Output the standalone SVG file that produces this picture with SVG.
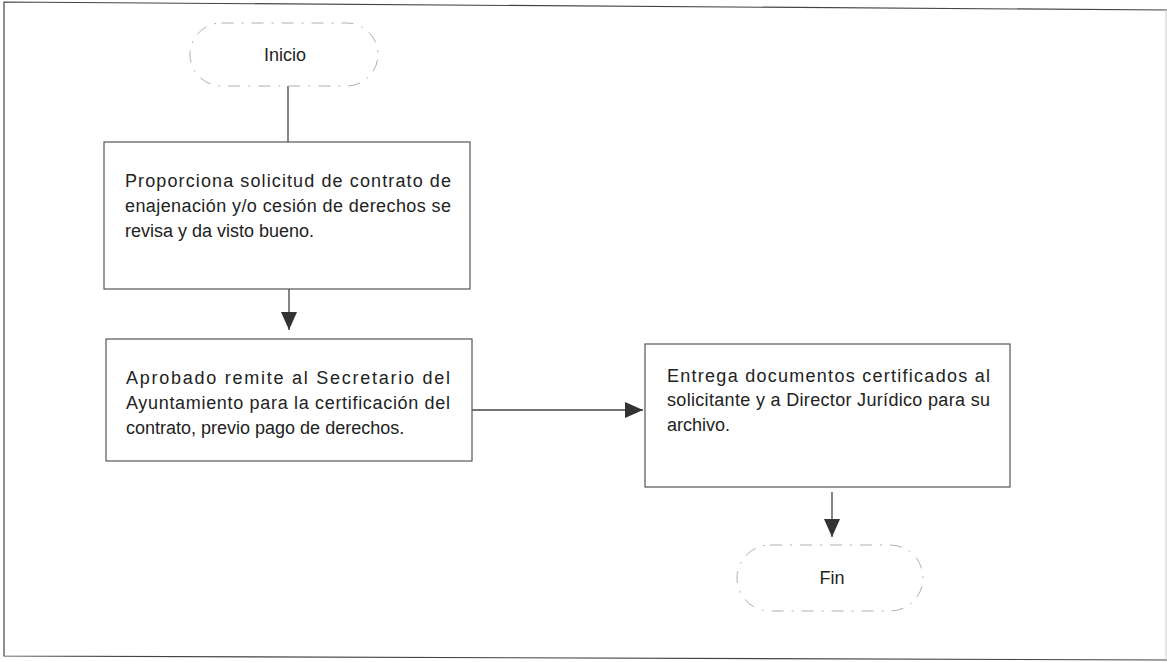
<svg xmlns="http://www.w3.org/2000/svg" width="1167" height="662" viewBox="0 0 1167 662">
<defs>
<marker id="arr" viewBox="0 0 18 16" refX="18" refY="8" markerWidth="18" markerHeight="16" markerUnits="userSpaceOnUse" orient="auto">
<path d="M0,0 L18,8 L0,16 Z" fill="#333"/>
</marker>
<style>
.frame{fill:none;stroke:#444;stroke-width:1.2}
.frameFaint{fill:none;stroke:#ccc;stroke-width:1}
.box{fill:#fff;stroke:#555;stroke-width:1.2}
.term{fill:#fff;stroke:#b0b0b0;stroke-width:1;stroke-dasharray:12 8 2 8}
.conn{fill:none;stroke:#444;stroke-width:1.3}
.txt{font-family:"Liberation Sans",Arial,sans-serif;font-size:18px;fill:#222}
</style>
</defs>
<rect width="1167" height="662" fill="#fff"/>
<g id="frame">
<path class="frame" d="M1167,10 L4,2 L4,656 L1167,660"/>
<path class="frameFaint" d="M1166,10 L1166,660"/>
</g>
<g id="connectors">
<line class="conn" x1="288" y1="86" x2="288" y2="142"/>
<line class="conn" x1="289" y1="289" x2="289" y2="330" marker-end="url(#arr)"/>
<line class="conn" x1="472" y1="410" x2="643" y2="410" marker-end="url(#arr)"/>
<line class="conn" x1="832" y1="492" x2="832" y2="537" marker-end="url(#arr)"/>
</g>
<g id="inicio">
<rect class="term" x="190" y="23" width="188" height="63" rx="31.5" ry="31.5"/>
<text class="txt" x="285" y="61" text-anchor="middle">Inicio</text>
</g>
<g id="paso1">
<rect class="box" x="104" y="142" width="366" height="147"/>
<text class="txt" x="125" y="187" textLength="326" lengthAdjust="spacing">Proporciona solicitud de contrato de</text>
<text class="txt" x="125" y="212" textLength="326" lengthAdjust="spacing">enajenación y/o cesión de derechos se</text>
<text class="txt" x="125" y="237">revisa y da visto bueno.</text>
</g>
<g id="paso2">
<rect class="box" x="106" y="339" width="366" height="122"/>
<text class="txt" x="126" y="384" textLength="324" lengthAdjust="spacing">Aprobado remite al Secretario del</text>
<text class="txt" x="126" y="409" textLength="324" lengthAdjust="spacing">Ayuntamiento para la certificación del</text>
<text class="txt" x="126" y="434">contrato, previo pago de derechos.</text>
</g>
<g id="paso3">
<rect class="box" x="645" y="344" width="365" height="143"/>
<text class="txt" x="667" y="382" textLength="323" lengthAdjust="spacing">Entrega documentos certificados al</text>
<text class="txt" x="667" y="406" textLength="323" lengthAdjust="spacing">solicitante y a Director Jurídico para su</text>
<text class="txt" x="667" y="431">archivo.</text>
</g>
<g id="fin">
<rect class="term" x="737" y="545" width="186" height="66" rx="33" ry="33"/>
<text class="txt" x="832" y="584" text-anchor="middle">Fin</text>
</g>
</svg>
